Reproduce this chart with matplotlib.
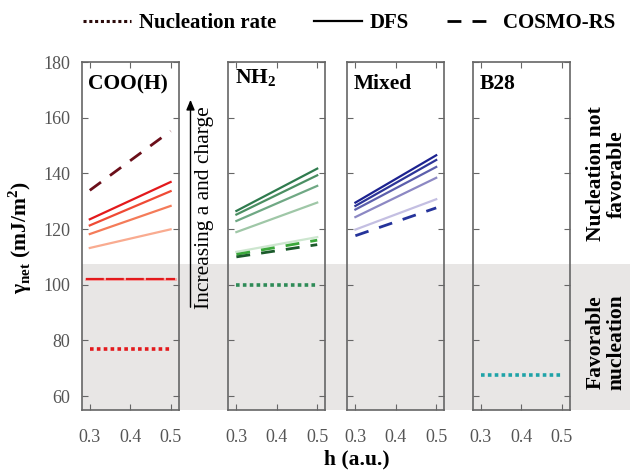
import matplotlib
matplotlib.use("Agg")
import matplotlib.pyplot as plt
from matplotlib.lines import Line2D
from matplotlib.patches import Rectangle, FancyArrowPatch

plt.rcParams["font.family"] = ["Liberation Serif", "DejaVu Serif"]
plt.rcParams["mathtext.fontset"] = "custom"
plt.rcParams["mathtext.rm"] = "Liberation Serif"
plt.rcParams["mathtext.bf"] = "Liberation Serif:bold"

# data
h = [0.3, 0.5]
h_wide = [0.29, 0.51]

coo_dfs = [[123.5, 136.9], [121.3, 133.6], [118.2, 128.3], [113.2, 119.9]]
coo_cosmo = [[133.9, 155.2]]
coo_flat = [101.9, 101.9]
coo_rate = [77.0, 77.0]

nh2_dfs = [[126.5, 141.7], [125.2, 139.3], [122.9, 135.5], [118.9, 129.5], [111.8, 117.1]]
nh2_cosmo = [[110.9, 116.0], [110.0, 114.4]]
nh2_rate = [100.0, 100.0]

mixed_dfs = [[129.5, 146.5], [128.3, 144.8], [127.0, 142.3], [124.3, 138.4], [119.8, 130.7]]
mixed_cosmo = [[117.6, 127.6]]

b28_rate = [67.7, 67.7]

coo_dfs_colors = ["#e3191c", "#ef4a35", "#f47b59", "#f9ab90"]
coo_cosmo_colors = ["#6b0f1a"]
nh2_dfs_colors = ["#2f7b4e", "#4b8f63", "#6fa884", "#9fc7a7", "#cde6cf"]
nh2_cosmo_colors = ["#3aa83a", "#1b5a2b"]
mixed_dfs_colors = ["#1c2290", "#2d3598", "#5c5fac", "#8c88c3", "#c4bfe2"]
mixed_cosmo_colors = ["#25339a"]

titles = ["COO(H)", r"NH$_{\mathbf{2}}$", "Mixed", "B28"]
x_ticks = [0.3, 0.4, 0.5]
y_ticks = [60, 80, 100, 120, 140, 160, 180]

gray = "#e8e6e5"
edge = "#666666"
dotted = (0, (1, 0.9))
dashed = (0, (5, 4))

W, H = 630, 471
fig = plt.figure(figsize=(6.3, 4.71), dpi=100)

# shaded "favorable" band behind the panels
fig.patches.append(Rectangle((81.7 / W, 1 - 410 / H), 1 - 81.7 / W, (410 - 264.3) / H,
                             transform=fig.transFigure, facecolor=gray, edgecolor="none",
                             zorder=-5))

lefts = [81.7, 228.3, 347.3, 472.7]
axes = []
for i, left in enumerate(lefts):
    ax = fig.add_axes([left / W, 1 - 410 / H, 97 / W, 348 / H])
    ax.set_zorder(2)
    ax.set_facecolor("none")
    ax.set_xlim(0.28, 0.52)
    ax.set_ylim(55, 180)
    ax.set_xticks(x_ticks)
    ax.set_xticklabels(["0.3", "0.4", "0.5"])
    ax.set_yticks(y_ticks)
    ax.tick_params(direction="in", top=True, right=True, length=4, color=edge,
                   labelcolor="#555555", labelsize=13)
    ax.tick_params(axis="x", pad=14)
    ax.tick_params(axis="y", pad=8)
    if i > 0:
        ax.set_yticklabels([])
    for s in ax.spines.values():
        s.set_color(edge)
        s.set_linewidth(1.2)
    ty = 0.985 if i == 1 else 0.965
    ax.text(0.07, ty, titles[i], transform=ax.transAxes, ha="left", va="top",
            fontsize=15.5, fontweight="bold")
    axes.append(ax)

ax1, ax2, ax3, ax4 = axes

# COO(H)
for y, c in zip(coo_dfs, coo_dfs_colors):
    ax1.plot(h, y, color=c, lw=1.6)
for y, c in zip(coo_cosmo, coo_cosmo_colors):
    ax1.plot(h, y, color=c, lw=2, linestyle=dashed)
ax1.plot(h_wide, coo_flat, color="#f6a3a3", lw=2)
ax1.plot(h_wide, coo_flat, color="#e3191c", lw=1.6, linestyle=(0, (8, 1)))
ax1.plot(h, coo_rate, color="#e3191c", lw=2.6, linestyle=dotted)

# NH2
for y, c in zip(nh2_dfs, nh2_dfs_colors):
    ax2.plot(h, y, color=c, lw=1.6)
for y, c in zip(nh2_cosmo, nh2_cosmo_colors):
    ax2.plot(h, y, color=c, lw=2, linestyle=dashed)
ax2.plot(h, nh2_rate, color="#2e8b57", lw=2.6, linestyle=dotted)

# Mixed
for y, c in zip(mixed_dfs, mixed_dfs_colors):
    ax3.plot(h, y, color=c, lw=1.6)
for y, c in zip(mixed_cosmo, mixed_cosmo_colors):
    ax3.plot(h, y, color=c, lw=2, linestyle=dashed)

# B28
ax4.plot(h, b28_rate, color="#1fa3a8", lw=2.6, linestyle=dotted)

# legend on top
handles = [Line2D([], [], color="#2a0a0a", lw=2.2, linestyle=dotted),
           Line2D([], [], color="black", lw=1.6),
           Line2D([], [], color="black", lw=2, linestyle=dashed)]
fig.legend(handles, ["Nucleation rate", "DFS", "COSMO-RS"], loc="center",
           bbox_to_anchor=(349 / W, 1 - 23 / H), ncol=3, frameon=False,
           handlelength=2.3, handletextpad=0.4, columnspacing=1.8,
           prop={"weight": "bold", "size": 15})

# arrow between first two panels
fig.patches.append(FancyArrowPatch(
    (190.5 / W, 1 - 310 / H), (190.5 / W, 1 - 97 / H), transform=fig.transFigure,
    arrowstyle="-|>,head_length=6,head_width=2.5", color="black", lw=1))
fig.text(205 / W, 1 - 208 / H, "Increasing a and charge", rotation=90,
         ha="center", va="center", fontsize=15.5)

# labels
fig.text(20 / W, 1 - 238 / H, r"γ$_{\mathbf{net}}$ (mJ/m$^{\mathbf{2}}$)", rotation=90,
         ha="center", va="center", fontsize=15.5, fontweight="bold")
fig.text(357 / W, 1 - 459 / H, "h (a.u.)", ha="center", va="center",
         fontsize=15.5, fontweight="bold")
fig.text(606 / W, 1 - 174 / H, "Nucleation not\nfavorable", rotation=90,
         ha="center", va="center", fontsize=15.5, fontweight="bold", linespacing=1.05)
fig.text(606 / W, 1 - 342 / H, "Favorable\nnucleation", rotation=90,
         ha="center", va="center", fontsize=15.5, fontweight="bold", linespacing=1.05)

fig.savefig("out.png", dpi=100)
